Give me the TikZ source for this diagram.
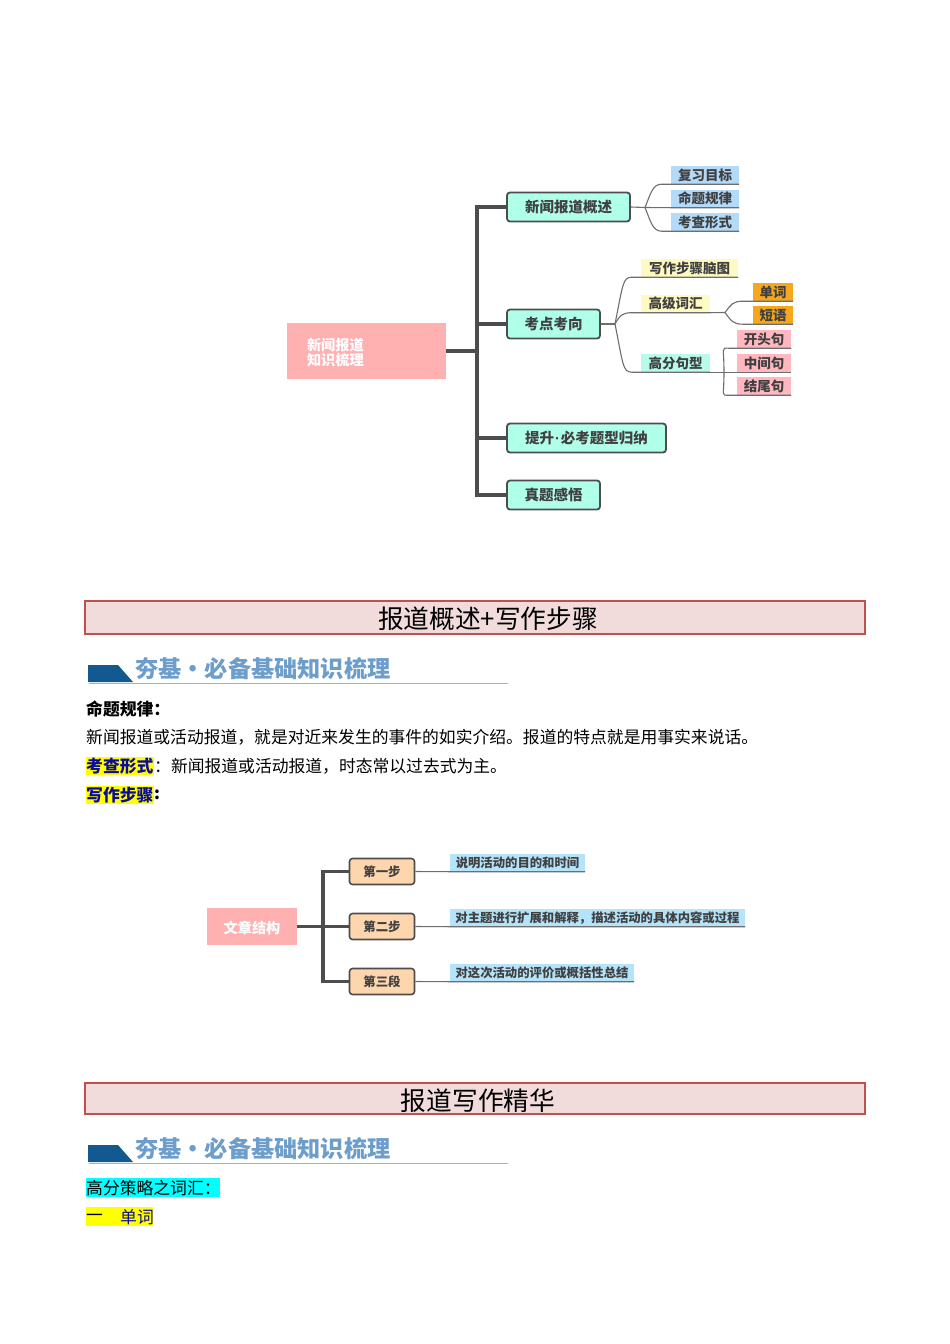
\documentclass[tikz,border=0pt]{standalone}
\usepackage{fontspec}
\setmainfont{Noto Sans CJK SC}
\newfontfamily\dotfont{Liberation Sans}
\usetikzlibrary{calc}
\newcommand\pxfont[1]{\fontsize{#1}{#1}\selectfont}
\definecolor{inkg}{HTML}{404040}
\definecolor{trunkc}{HTML}{4D4D4D}
\definecolor{thinc}{HTML}{6E6E6E}
\definecolor{mint}{HTML}{B0FFE9}
\definecolor{rootp}{HTML}{FFB0B0}
\definecolor{lblue}{HTML}{B3DAF8}
\definecolor{lyel}{HTML}{FFFAC2}
\definecolor{lmint}{HTML}{B8FBEA}
\definecolor{lorange}{HTML}{F5A81E}
\definecolor{lpink}{HTML}{FFB7C0}
\definecolor{peach}{HTML}{FDD6AE}
\definecolor{skyb}{HTML}{B5E3F9}
\definecolor{hdfill}{HTML}{F2DBDB}
\definecolor{hdline}{HTML}{C0504D}
\definecolor{bandark}{HTML}{11598F}
\definecolor{bantext}{HTML}{6C9DCB}
\definecolor{banline}{HTML}{8DB8D8}
\definecolor{hlyellow}{HTML}{FFFF00}
\definecolor{hlcyan}{HTML}{00FFFF}
\definecolor{navyt}{HTML}{0A0AA0}
\tikzset{
  x=1pt,y=-1pt,
  rootbox/.style={fill=rootp,draw=none,text=white,font=\pxfont{14.2}\bfseries,inner sep=0pt},
  midbox/.style={fill=mint,draw=trunkc,line width=1.8pt,rounded corners=3pt,text=inkg,font=\pxfont{14.5}\bfseries,minimum height=29pt,inner sep=0pt},
  stepbox/.style={fill=peach,draw=trunkc,line width=1.6pt,rounded corners=3pt,text=inkg,font=\pxfont{12.4}\bfseries,minimum width=65pt,minimum height=26pt,inner sep=0pt},
  leaf/.style={draw=none,text=inkg,font=\pxfont{13.5}\bfseries,minimum height=18pt,inner sep=0pt},
  small/.style={draw=none,text=inkg,font=\pxfont{12.35}\bfseries,minimum height=17.5pt,inner sep=0pt},
  trunk/.style={draw=trunkc,line width=3.2pt},
  twig/.style={draw=thinc,line width=1.1pt},
  header/.style={fill=hdfill,draw=hdline,line width=1.6pt,minimum width=780pt,inner sep=0pt},
  htitle/.style={text=black,font=\pxfont{25.7},inner sep=0pt},
  bantitle/.style={text=bantext,font=\pxfont{23.2}\bfseries,anchor=west,inner sep=0pt},
  body/.style={text=black,font=\pxfont{16.8},anchor=west,inner sep=0pt}
}
% branch: junction, leaf, control offset, run-in
\newcommand\branch[4]{\draw[twig] (#1) .. controls +(#3) and +(-#4,0) .. ([xshift=-#4 pt]#2.south west) -- (#2.south east);}
\begin{document}
\begin{tikzpicture}
\useasboundingbox (0,0) rectangle (950,1344);
\fill[white] (0,0) rectangle (950,1344);

% ---- first mind map
\node[rootbox,minimum height=56pt,text width=119pt,inner xsep=20pt,align=left] (root) at (366.5,351) {\rule{0pt}{15.5pt}新闻报道\\[0.5pt]知识梳理};
\node[midbox,minimum width=123pt] (a) at (568.5,207) {新闻报道概述};
\node[midbox,minimum width=93pt] (b) at (553.5,324) {考点考向};
\node[midbox,minimum width=159pt] (c) at (586.5,438) {提升\hspace{1pt}{\dotfont·}\hspace{1pt}必考题型归纳};
\node[midbox,minimum width=93pt] (d) at (553.5,495) {真题感悟};
\coordinate (sp) at (477,351);
\draw[trunk] (root.east) -- (sp);
\foreach \n in {a,b,c,d} \draw[trunk] (\n.west) -| (sp);

\node[leaf,fill=lblue,minimum width=68pt] (a1) at (705,175) {复习目标};
\node[leaf,fill=lblue,minimum width=68pt] (a2) at (705,198.5) {命题规律};
\node[leaf,fill=lblue,minimum width=68pt] (a3) at (705,222) {考查形式};
\coordinate (ja) at (645,207.5);
\draw[twig] (a.east) -- (ja);
\branch{ja}{a1}{6,-15}{9}
\draw[twig] (ja) -- (a2.south west) -- (a2.south east);
\branch{ja}{a3}{6,15}{9}

\node[leaf,fill=lyel,minimum width=97pt] (b1) at (689.5,268) {写作步骤脑图};
\node[leaf,fill=lyel,minimum width=69pt] (b2) at (675.5,303.5) {高级词汇};
\node[leaf,fill=lmint,minimum width=69pt] (b3) at (675.5,363) {高分句型};
\coordinate (jb) at (615,324);
\draw[twig] (b.east) -- (jb);
\branch{jb}{b1}{8,-40}{9}
\branch{jb}{b2}{5,-9}{9}
\branch{jb}{b3}{8,40}{9}

\node[leaf,fill=lorange,minimum width=40pt] (c1) at (773,292) {单词};
\node[leaf,fill=lorange,minimum width=40pt] (c2) at (773,315) {短语};
\coordinate (jc) at (725,312.5);
\draw[twig] (b2.south east) -- (jc);
\branch{jc}{c1}{6,-8}{10}
\branch{jc}{c2}{6,8}{10}

\node[leaf,fill=lpink,minimum width=54pt] (e1) at (764,339) {开头句};
\node[leaf,fill=lpink,minimum width=54pt] (e2) at (764,363) {中间句};
\node[leaf,fill=lpink,minimum width=54pt] (e3) at (764,386) {结尾句};
\coordinate (je) at (724,372);
\draw[twig] (b3.south east) -- (e2.south east);
\branch{je}{e1}{0,-26}{8}
\branch{je}{e3}{0,25}{8}

% ---- first header
\node[header,minimum height=33pt] (h1) at (475,617.5) {};
\node[htitle] (h1t) at (488,619) {报道概述+写作步骤};
\fill[bandark] (88,665) -- (118,665) -- (133,682) -- (88,682) -- cycle;
\node[bantitle] (b1t) at (135,668.5) {夯基·必备基础知识梳理};
\draw[banline,line width=1pt] (89,683.5) -- (508,683.5);

\node[body,font=\pxfont{16.8}\bfseries] (t1) at (86,709) {命题规律：};
\node[body] (t2) at (86,737.5) {新闻报道或活动报道，就是对近来发生的事件的如实介绍。报道的特点就是用事实来说话。};
\node[fill=hlyellow,minimum width=68pt,minimum height=18pt,inner sep=0pt,anchor=west] (t3a) at (86,766) {};
\node[body,text=navyt,font=\pxfont{16.8}\bfseries] (t3b) at (86,766) {考查形式};
\node[body] (t3c) at (154,766.5) {：新闻报道或活动报道，时态常以过去式为主。};
\node[fill=hlyellow,minimum width=68pt,minimum height=18pt,inner sep=0pt,anchor=west] (t4a) at (86,795) {};
\node[body,text=navyt,font=\pxfont{16.8}\bfseries] (t4b) at (86,795) {写作步骤};
\node[body,font=\pxfont{16.8}\bfseries] (t4c) at (154,795) {:};

% ---- second mind map
\node[rootbox,minimum width=90pt,minimum height=37pt] (r2) at (252,926.5) {\rule{0pt}{15.5pt}文章结构};
\node[stepbox] (s1) at (382,871.5) {第一步};
\node[stepbox] (s2) at (382,926.5) {第二步};
\node[stepbox] (s3) at (382,981.5) {第三段};
\coordinate (sq) at (323,926.5);
\draw[trunk] (r2.east) -- (s2.west);
\draw[trunk] (s1.west) -| (sq);
\draw[trunk] (s3.west) -| (sq);
\node[small,fill=skyb,minimum width=135pt] (l1) at (517.5,862.75) {说明活动的目的和时间};
\node[small,fill=skyb,minimum width=295pt] (l2) at (597.5,917.75) {对主题进行扩展和解释，描述活动的具体内容或过程};
\node[small,fill=skyb,minimum width=184pt] (l3) at (542,972.75) {对这次活动的评价或概括性总结};
\foreach \i in {1,2,3} \draw[twig] (s\i.east) -- (l\i.south west) -- (l\i.south east);

% ---- second header
\node[header,minimum height=31pt] (h2) at (475,1098.5) {};
\node[htitle] (h2t) at (478,1101) {报道写作精华};
\fill[bandark] (88,1145) -- (118,1145) -- (133,1162) -- (88,1162) -- cycle;
\node[bantitle] (b2t) at (135,1148.5) {夯基·必备基础知识梳理};
\draw[banline,line width=1pt] (89,1163.5) -- (508,1163.5);

\node[fill=hlcyan,minimum width=134pt,minimum height=19pt,inner sep=0pt,anchor=west] (u1a) at (86,1187.5) {};
\node[body] (u1b) at (86,1188.5) {高分策略之词汇：};
\node[fill=hlyellow,minimum width=67pt,minimum height=19pt,inner sep=0pt,anchor=west] (u2a) at (86,1216.5) {};
\node[body] (u2b) at (86,1217.5) {一};
\node[body,text=navyt] (u2c) at (120,1217.5) {单词};
\end{tikzpicture}
\end{document}
